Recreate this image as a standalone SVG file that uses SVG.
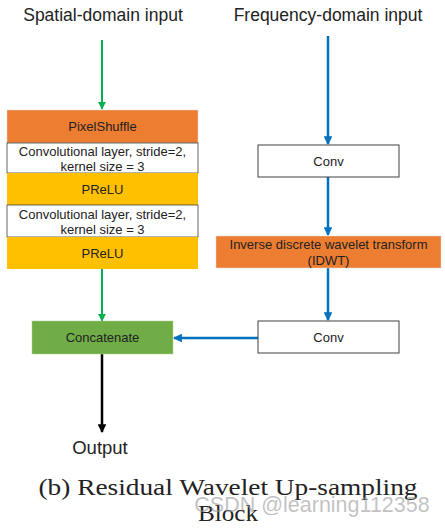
<svg xmlns="http://www.w3.org/2000/svg" width="445" height="531" viewBox="0 0 445 531">
<defs>
<style>
.t{font-family:"Liberation Sans","Noto Sans",sans-serif;fill:#222;text-anchor:middle}
.s{font-size:13px}
.h{font-size:17.5px}
.cap{font-family:"Liberation Serif","DejaVu Serif",serif;font-size:24px;fill:#222;text-anchor:middle}
.g{stroke:#00B050;stroke-width:2;fill:none}
.b{stroke:#0070C0;stroke-width:2.5;fill:none}
.k{stroke:#000;stroke-width:2.5;fill:none}
</style>
<marker id="ag" viewBox="0 0 10 10" refX="9" refY="5" markerWidth="4" markerHeight="4" orient="auto" markerUnits="strokeWidth"><path d="M0,0 L10,5 L0,10 z" fill="#00B050"/></marker>
<marker id="ab" viewBox="0 0 10 10" refX="9" refY="5" markerWidth="3.5" markerHeight="3.5" orient="auto" markerUnits="strokeWidth"><path d="M0,0 L10,5 L0,10 z" fill="#0070C0"/></marker>
<marker id="ak" viewBox="0 0 10 10" refX="9" refY="5" markerWidth="3.5" markerHeight="3.5" orient="auto" markerUnits="strokeWidth"><path d="M0,0 L10,5 L0,10 z" fill="#000"/></marker>
</defs>
<rect width="445" height="531" fill="#fff"/>
<text class="t h" x="103" y="21">Spatial-domain input</text>
<text class="t h" x="328" y="21">Frequency-domain input</text>
<g id="connectors">
<line class="g" x1="102" y1="40" x2="102" y2="109" marker-end="url(#ag)"/>
<line class="g" x1="102" y1="269" x2="102" y2="321" marker-end="url(#ag)"/>
<line class="b" x1="328" y1="36" x2="328" y2="144" marker-end="url(#ab)"/>
<line class="b" x1="328" y1="177" x2="328" y2="235" marker-end="url(#ab)"/>
<line class="b" x1="328" y1="268" x2="328" y2="320" marker-end="url(#ab)"/>
<line class="b" x1="258" y1="338" x2="174" y2="338" marker-end="url(#ab)"/>
<line class="k" x1="102" y1="354" x2="102" y2="432" marker-end="url(#ak)"/>
</g>
<g id="pixelshuffle"><rect x="7" y="110" width="191" height="33" fill="#ED7D31" stroke="#D9D9D9" stroke-width="0.5"/><text class="t s" x="102.5" y="131">PixelShuffle</text></g>
<g id="conv-l1"><rect x="7" y="143" width="191" height="30" fill="#fff" stroke="#404040" stroke-width="0.8"/><text class="t s" x="102.5" y="156">Convolutional layer, stride=2,</text><text class="t s" x="102.5" y="170.5">kernel size = 3</text></g>
<g id="prelu1"><rect x="7" y="173" width="191" height="32" fill="#FFC000"/><text class="t s" x="102.5" y="194">PReLU</text></g>
<g id="conv-l2"><rect x="7" y="205" width="191" height="32" fill="#fff" stroke="#404040" stroke-width="0.8"/><text class="t s" x="102.5" y="219">Convolutional layer, stride=2,</text><text class="t s" x="102.5" y="234">kernel size = 3</text></g>
<g id="prelu2"><rect x="7" y="237" width="191" height="32" fill="#FFC000"/><text class="t s" x="102.5" y="258">PReLU</text></g>
<g id="conv-r1"><rect x="258" y="145" width="141" height="32" fill="#fff" stroke="#404040" stroke-width="1"/><text class="t s" x="328.5" y="166">Conv</text></g>
<g id="idwt"><rect x="216" y="236" width="225" height="32" fill="#ED7D31" stroke="#D9D9D9" stroke-width="0.5"/><text class="t s" x="328.5" y="249">Inverse discrete wavelet transform</text><text class="t s" x="328.5" y="265">(IDWT)</text></g>
<g id="conv-r2"><rect x="258" y="321" width="141" height="32" fill="#fff" stroke="#404040" stroke-width="1"/><text class="t s" x="328.5" y="342">Conv</text></g>
<g id="concatenate"><rect x="32" y="321" width="141" height="33" fill="#70AD47" stroke="#A9D18E" stroke-width="0.5"/><text class="t s" x="102.5" y="342">Concatenate</text></g>
<g id="output"><text class="t h" x="100" y="454" style="font-size:18.5px">Output</text></g>
<text class="cap" x="228" y="495" textLength="379" lengthAdjust="spacingAndGlyphs">(b) Residual Wavelet Up-sampling</text>
<text class="cap" x="228" y="521" textLength="60" lengthAdjust="spacingAndGlyphs">Block</text>
<text x="312" y="512" font-family="Liberation Sans,sans-serif" font-size="21.5" fill="#999" fill-opacity="0.6" text-anchor="middle">CSDN @learning112358</text>
</svg>
